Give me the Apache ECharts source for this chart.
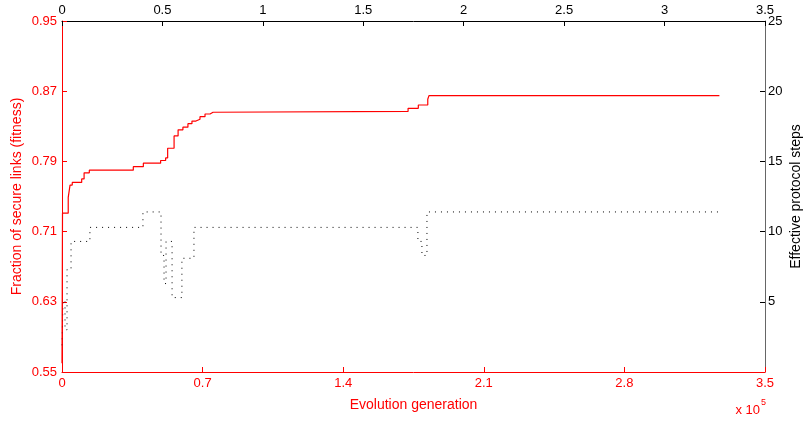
<!DOCTYPE html>
<html>
<head>
<meta charset="utf-8">
<script src="https://cdn.jsdelivr.net/npm/echarts@6/dist/echarts.min.js"></script>
<style>html,body{margin:0;padding:0;background:#fff;}#c{width:806px;height:424px;}</style>
</head>
<body>
<div id="c"></div>
<script>
// Fitness (left axis) step series: [generation, fraction of secure links]
const fitnessGen = [0, 250, 3100, 4000, 5100, 9800, 11000, 13600, 35500, 40500, 49100, 51600, 52600, 55800, 57800, 60200, 62700, 64700, 66700, 68700, 71200, 73700, 75200, 172300, 177400, 182100, 182700, 327300];
const fitnessVal = [0.56, 0.731, 0.749, 0.763, 0.766, 0.770, 0.777, 0.780, 0.784, 0.788, 0.791, 0.794, 0.805, 0.819, 0.826, 0.829, 0.833, 0.836, 0.838, 0.841, 0.844, 0.846, 0.847, 0.8505, 0.8543, 0.8608, 0.865, 0.865];
// Effective protocol steps (right axis) step series
const stepsGen = [0, 500, 1500, 2500, 4500, 13900, 40300, 49300, 50800, 51800, 54800, 59700, 65700, 177200, 179200, 181700, 327600];
const stepsVal = [1.9, 5.1, 3.0, 7.3, 9.3, 10.3, 11.4, 8.3, 6.3, 9.3, 5.3, 8.1, 10.3, 9.3, 8.3, 11.4, 11.4];
// Axis ticks
const leftTicks = [0.55, 0.63, 0.71, 0.79, 0.87, 0.95];
const bottomTicks = [0, 70000, 140000, 210000, 280000, 350000];
const topTicks = [0, 0.5, 1, 1.5, 2, 2.5, 3, 3.5];
const rightTicks = [5, 10, 15, 20, 25];

const FONT = 'Liberation Sans, Arial, Helvetica, sans-serif';
const RED = '#ff0000';
const chart = echarts.init(document.getElementById('c'), null, {renderer: 'canvas'});
chart.setOption({
  animation: false,
  backgroundColor: '#fff',
  textStyle: {fontFamily: FONT},
  grid: {left: 62, right: 41, top: 21, bottom: 52, containLabel: false, outerBoundsMode: 'none'},
  xAxis: [
    {
      type: 'value', position: 'bottom', min: 0, max: 350000, interval: 70000,
      name: 'Evolution generation', nameLocation: 'middle', nameGap: 26,
      nameTextStyle: {color: RED, fontSize: 14, fontFamily: FONT},
      axisLine: {show: true, onZero: false, lineStyle: {color: RED, width: 1}},
      axisTick: {show: true, inside: true, length: 5, lineStyle: {color: RED}},
      axisLabel: {color: RED, fontSize: 13, fontFamily: FONT, margin: 5,
        formatter: v => bottomTicks.includes(v) ? String(+(v / 1e5).toFixed(1)) : ''},
      splitLine: {show: false}
    },
    {
      type: 'value', position: 'top', min: 0, max: 3.5, interval: 0.5,
      axisLine: {show: true, onZero: false, lineStyle: {color: '#000', width: 1}},
      axisTick: {show: true, inside: true, length: 5, lineStyle: {color: '#000'}},
      axisLabel: {color: '#000', fontSize: 13, fontFamily: FONT, margin: 4,
        formatter: v => topTicks.includes(v) ? String(v) : ''},
      splitLine: {show: false}
    }
  ],
  yAxis: [
    {
      type: 'value', position: 'left', min: 0.55, max: 0.95,
      name: 'Fraction of secure links (fitness)', nameLocation: 'middle', nameGap: 38, nameRotate: 90,
      nameMoveOverlap: false,
      nameTextStyle: {color: RED, fontSize: 14, fontFamily: FONT},
      axisLine: {show: true, onZero: false, lineStyle: {color: RED, width: 1}},
      axisTick: {show: true, inside: true, length: 5, lineStyle: {color: RED}, customValues: leftTicks},
      axisLabel: {color: RED, fontSize: 13, fontFamily: FONT, margin: 5, customValues: leftTicks,
        formatter: v => v.toFixed(2)},
      splitLine: {show: false}
    },
    {
      type: 'value', position: 'right', min: 0, max: 25, interval: 5,
      name: 'Effective protocol steps', nameLocation: 'middle', nameGap: 24, nameRotate: 90,
      nameMoveOverlap: false,
      nameTextStyle: {color: '#000', fontSize: 14, fontFamily: FONT},
      axisLine: {show: true, onZero: false, lineStyle: {color: '#666', width: 1}},
      axisTick: {show: true, inside: true, length: 5, lineStyle: {color: '#000'}},
      axisLabel: {color: '#000', fontSize: 13, fontFamily: FONT, margin: 3, showMinLabel: false,
        formatter: v => rightTicks.includes(v) ? String(v) : ''},
      splitLine: {show: false}
    }
  ],
  graphic: [{
    type: 'text', right: 40, top: 398,
    style: {
      text: '{a|x 10}{b|5}',
      rich: {
        a: {fontSize: 13, fill: RED, fontFamily: FONT, verticalAlign: 'bottom'},
        b: {fontSize: 9, fill: RED, fontFamily: FONT, verticalAlign: 'top', padding: [0, 0, 10, 1]}
      }
    }
  }],
  series: [
    {
      type: 'line', xAxisIndex: 0, yAxisIndex: 0, step: 'end', showSymbol: false,
      lineStyle: {color: RED, width: 1.2}, z: 3,
      data: fitnessGen.map((g, i) => [g, fitnessVal[i]])
    },
    {
      type: 'line', xAxisIndex: 0, yAxisIndex: 1, step: 'end', showSymbol: false,
      lineStyle: {color: '#000', width: 1, type: [1, 5]}, z: 2,
      data: stepsGen.map((g, i) => [g, stepsVal[i]])
    }
  ]
});
</script>
</body>
</html>
